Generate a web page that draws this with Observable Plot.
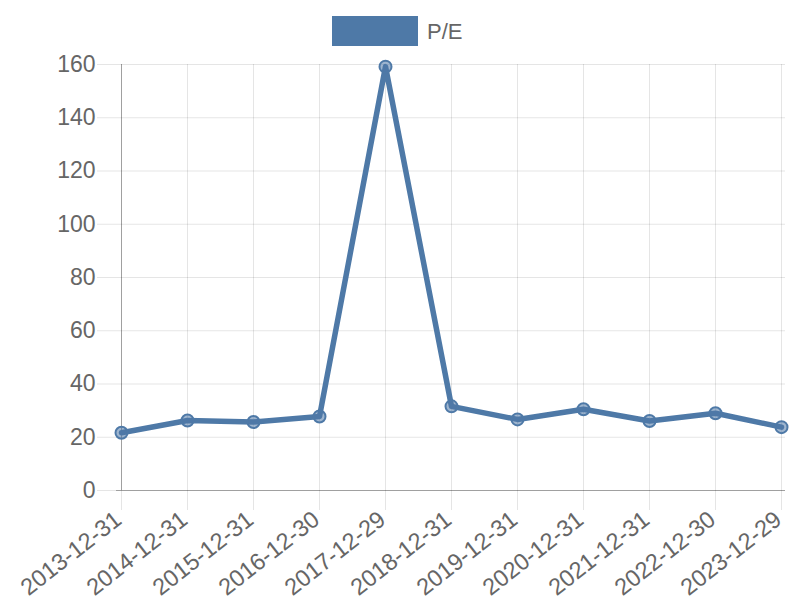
<!DOCTYPE html>
<html>
<head>
<meta charset="utf-8">
<script src="https://cdn.jsdelivr.net/npm/d3@7"></script>
<script src="https://cdn.jsdelivr.net/npm/@observablehq/plot@0.6"></script>
<style>
  html, body { margin: 0; padding: 0; background: #fff; }
  #wrap { position: relative; width: 800px; height: 600px; font-family: "Liberation Sans", Arial, sans-serif; }
  #legend .box { position: absolute; left: 332px; top: 16px; width: 86px; height: 30px; background: #4e79a7; }
  #legend .lab { position: absolute; left: 427px; top: 19px; font-size: 22px; line-height: 25px; color: #666; }
  #chart { position: absolute; left: 0; top: 0; }
</style>
</head>
<body>
<div id="wrap">
  <div id="chart"></div>
  <div id="legend"><div class="box"></div><div class="lab">P/E</div></div>
</div>
<script>
const dates = ["2013-12-31","2014-12-31","2015-12-31","2016-12-30","2017-12-29","2018-12-31","2019-12-31","2020-12-31","2021-12-31","2022-12-30","2023-12-29"];
const pe = [21.7, 26.3, 25.7, 27.8, 159.2, 31.6, 26.7, 30.5, 26.1, 29.0, 23.8];
const yTicks = [0, 20, 40, 60, 80, 100, 120, 140, 160];
const seriesName = "P/E";

const data = dates.map((d, i) => ({date: d, value: pe[i]}));
const color = "#4e79a7";

const chart = Plot.plot({
  width: 800,
  height: 600,
  marginTop: 64,
  marginBottom: 110,
  marginLeft: 116,
  marginRight: 15,
  style: {fontFamily: "Liberation Sans, Arial, sans-serif", color: "#666", background: "transparent"},
  x: {type: "point", domain: dates, padding: 0},
  y: {domain: [0, 160]},
  marks: [
    Plot.gridX(dates, {stroke: "#000", strokeOpacity: 0.1, strokeWidth: 1}),
    Plot.gridY(yTicks, {stroke: "#000", strokeOpacity: 0.1, strokeWidth: 1}),
    Plot.axisY(yTicks, {tickSize: 19, tickPadding: 2, fontSize: 23, stroke: "#000", strokeOpacity: 0.1, fill: "#666", label: null}),
    Plot.axisX(dates, {tickSize: 20, tickFormat: () => "", stroke: "#000", strokeOpacity: 0.1, label: null}),
    Plot.axisX(dates, {tickSize: 0, tickPadding: 21, tickRotate: -38, dx: -3, dy: 5, fontSize: 23.5, fill: "#666", label: null}),
    Plot.ruleY([0], {stroke: "#000", strokeOpacity: 0.3}),
    Plot.ruleX([dates[0]], {y1: 0, y2: 160, stroke: "#000", strokeOpacity: 0.3}),
    Plot.line(data, {x: "date", y: "value", stroke: color, strokeWidth: 5.5, curve: "linear"}),
    Plot.dot(data, {x: "date", y: "value", r: 6, fill: color, fillOpacity: 0.55, stroke: color, strokeWidth: 2})
  ]
});
document.getElementById("chart").appendChild(chart);
document.querySelector("#legend .lab").textContent = seriesName;
</script>
</body>
</html>
